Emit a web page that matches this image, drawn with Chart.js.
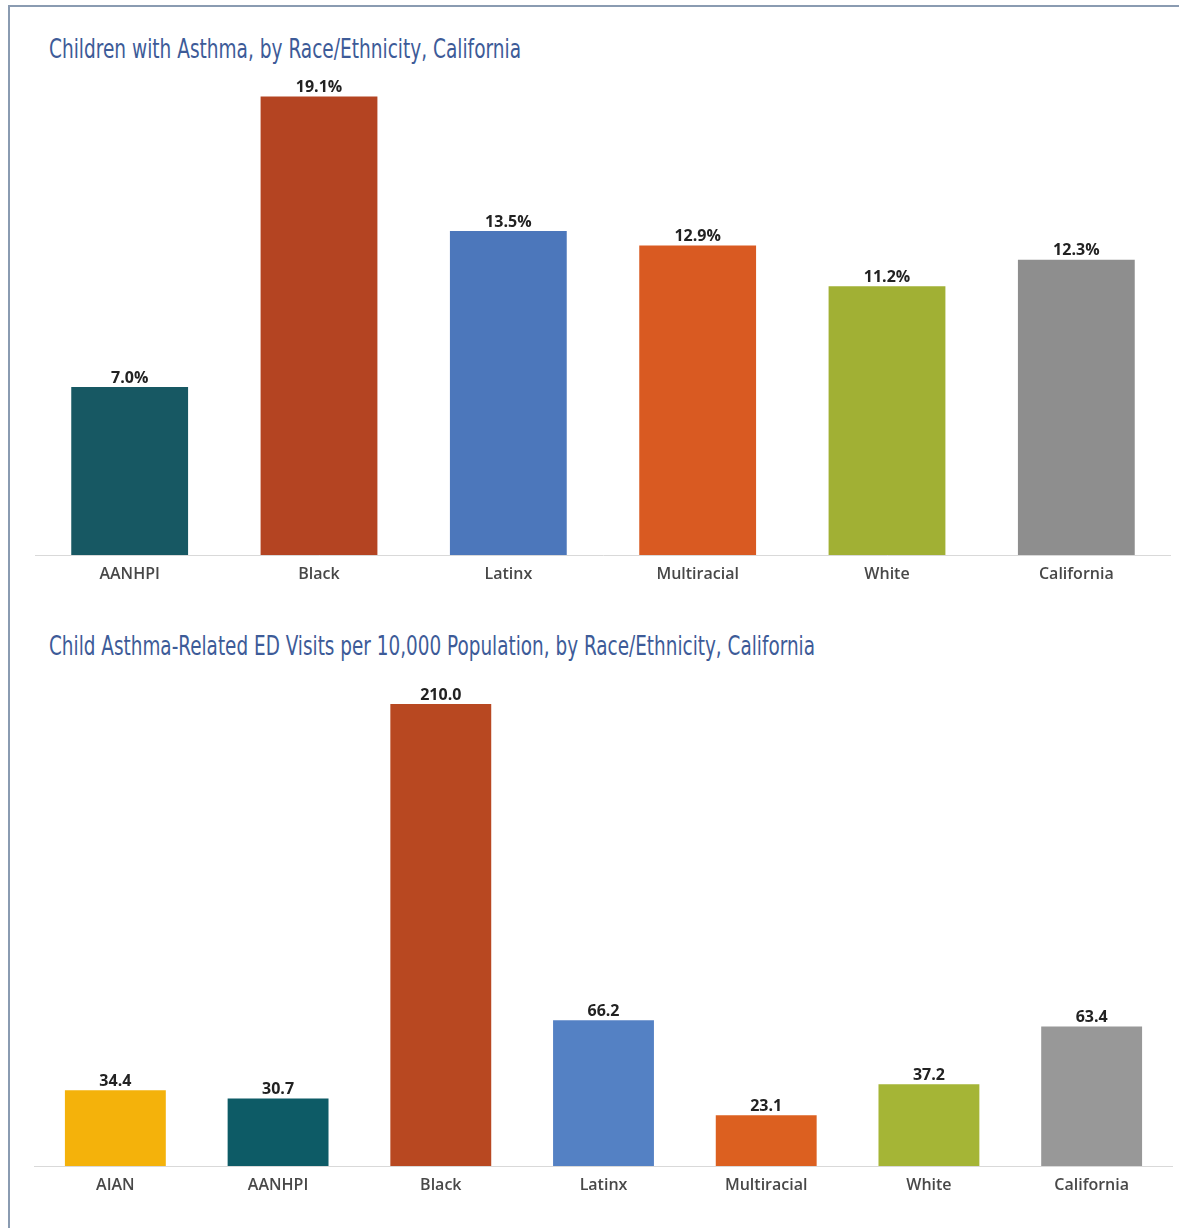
<!DOCTYPE html>
<html>
<head>
<meta charset="utf-8">
<script src="https://cdn.jsdelivr.net/npm/chart.js@4"></script>
<style>
  body { margin: 0; background: #fff; width: 1179px; height: 1228px; overflow: hidden; position: relative; }
  .frame { position: absolute; left: 8px; top: 5px; right: -4px; bottom: -4px; border-top: 2px solid #8a9bb1; border-left: 2px solid #8a9bb1; }
  .title { position: absolute; left: 49px; font-family: "Liberation Sans Narrow", "DejaVu Sans Condensed", sans-serif; font-size: 26px; color: #3d5b98; white-space: nowrap; transform-origin: 0 50%; }
  .box { position: absolute; }
</style>
</head>
<body>
<div class="frame"></div>
<div class="title" id="t1" data-w="472" style="top:34px">Children with Asthma, by Race/Ethnicity, California</div>
<div class="title" id="t2" data-w="766" style="top:631px">Child Asthma-Related ED Visits per 10,000 Population, by Race/Ethnicity, California</div>
<div class="box" style="left:35px; top:60px; width:1136px; height:540px"><canvas id="asthma"></canvas></div>
<div class="box" style="left:34px; top:660px; width:1139px; height:551px"><canvas id="edvisits"></canvas></div>
<script>
// chart 1 - children with asthma (%)
var asthmaCategories = ["AANHPI", "Black", "Latinx", "Multiracial", "White", "California"];
var asthmaPct = [7.0, 19.1, 13.5, 12.9, 11.2, 12.3];
var asthmaColors = ["#175863", "#b44422", "#4c77bb", "#d95a22", "#a1b034", "#8e8e8e"];

// chart 2 - ED visits per 10,000
var edCategories = ["AIAN", "AANHPI", "Black", "Latinx", "Multiracial", "White", "California"];
var edVisits = [34.4, 30.7, 210.0, 66.2, 23.1, 37.2, 63.4];
var edColors = ["#f4b20b", "#0d5b66", "#b84821", "#5481c4", "#dc6020", "#a5b536", "#989898"];

// squeeze titles to the width they have in the original
document.querySelectorAll(".title").forEach(function (el) {
  var w = el.getBoundingClientRect().width;
  el.style.transform = "scaleX(" + (Number(el.dataset.w) / w) + ")";
});

var valueLabels = {
  id: "valueLabels",
  afterDatasetsDraw: function (chart, args, opts) {
    var ctx = chart.ctx;
    var meta = chart.getDatasetMeta(0);
    var data = chart.data.datasets[0].data;
    ctx.save();
    ctx.font = "bold 16px 'Open Sans', sans-serif";
    ctx.fillStyle = "#222";
    ctx.textAlign = "center";
    ctx.textBaseline = "bottom";
    meta.data.forEach(function (bar, i) {
      ctx.fillText(data[i].toFixed(1) + (opts.suffix || ""), bar.x, bar.y - 1);
    });
    ctx.restore();
  }
};

function makeChart(id, labels, values, colors, max, padTop, barPct, suffix) {
  return new Chart(id, {
    type: "bar",
    data: {
      labels: labels,
      datasets: [{
        data: values,
        backgroundColor: colors,
        borderWidth: 0,
        barPercentage: barPct,
        categoryPercentage: 1
      }]
    },
    options: {
      responsive: true,
      maintainAspectRatio: false,
      animation: false,
      layout: { padding: { top: padTop, left: 0, right: 0, bottom: 0 } },
      plugins: {
        legend: { display: false },
        tooltip: { enabled: false },
        valueLabels: { suffix: suffix }
      },
      scales: {
        x: {
          grid: { display: false },
          border: { display: true, color: "#d9d9d9", width: 1 },
          ticks: { color: "#484848", padding: 2, font: { family: "'Open Sans', sans-serif", size: 16, weight: "600" } },
          afterFit: function (scale) { scale.height = 45; }
        },
        y: { display: false, min: 0, max: max }
      }
    },
    plugins: [valueLabels]
  });
}

makeChart("asthma", asthmaCategories, asthmaPct, asthmaColors, 20, 15, 0.617, "%");
makeChart("edvisits", edCategories, edVisits, edColors, 220, 22, 0.62, "");
</script>
</body>
</html>
